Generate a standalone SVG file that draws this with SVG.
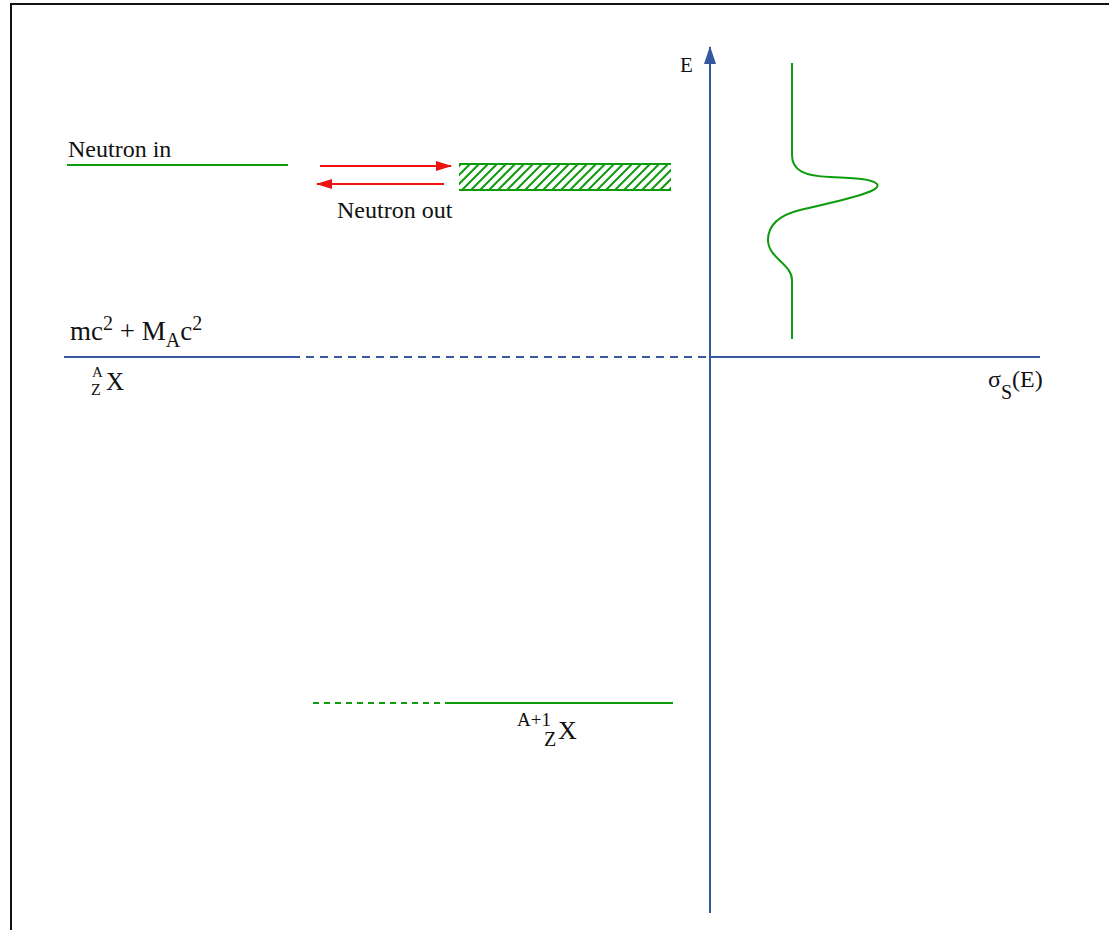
<svg xmlns="http://www.w3.org/2000/svg" width="1109" height="930" viewBox="0 0 1109 930">
<style>
text{font-family:"Liberation Serif","Times New Roman",serif;fill:#111}
.blue{stroke:#3558a0;stroke-width:2;fill:none}
.green{stroke:#0e9c0e;stroke-width:2;fill:none}
.red{stroke:#f01010;stroke-width:2;fill:none}
</style>
<defs>
<clipPath id="hatchClip"><rect x="459" y="164" width="212" height="26"/></clipPath>
<marker id="redArrow" markerWidth="16" markerHeight="10" refX="15" refY="5" orient="auto" markerUnits="userSpaceOnUse">
<path d="M0,0 L16,5 L0,10 Z" fill="#f01010"/>
</marker>
<marker id="blueArrow" markerWidth="12" markerHeight="18" refX="6" refY="1" orient="0" markerUnits="userSpaceOnUse">
<path d="M6,0 L12,18 L0,18 Z" fill="#3558a0"/>
</marker>
</defs>
<rect width="1109" height="930" fill="#fff"/>
<rect x="11" y="4" width="1200" height="1000" fill="none" stroke="#111" stroke-width="2"/>

<g id="axes">
<line class="blue" x1="710" y1="913" x2="710" y2="47" marker-end="url(#blueArrow)"/>
<line class="blue" x1="710" y1="357" x2="1040" y2="357"/>
<text x="680" y="72" font-size="21">E</text>
<text x="988" y="387" font-size="24">σ<tspan font-size="20" dy="12">S</tspan><tspan dy="-12">(E)</tspan></text>
</g>

<g id="neutron-in">
<text x="68" y="157" font-size="24">Neutron in</text>
<line class="green" x1="67" y1="165" x2="288" y2="165"/>
</g>

<g id="compound-state">
<path class="green" clip-path="url(#hatchClip)" d="M435,190 l26,-26 M444,190 l26,-26 M453,190 l26,-26 M462,190 l26,-26 M471,190 l26,-26 M480,190 l26,-26 M489,190 l26,-26 M498,190 l26,-26 M507,190 l26,-26 M516,190 l26,-26 M525,190 l26,-26 M534,190 l26,-26 M543,190 l26,-26 M552,190 l26,-26 M561,190 l26,-26 M570,190 l26,-26 M579,190 l26,-26 M588,190 l26,-26 M597,190 l26,-26 M606,190 l26,-26 M615,190 l26,-26 M624,190 l26,-26 M633,190 l26,-26 M642,190 l26,-26 M651,190 l26,-26 M660,190 l26,-26 M669,190 l26,-26"/>
<line class="green" x1="459" y1="164" x2="671" y2="164"/>
<line class="green" x1="459" y1="190" x2="671" y2="190"/>
</g>

<g id="connectors">
<line class="red" x1="320" y1="166" x2="451" y2="166" marker-end="url(#redArrow)"/>
<line class="red" x1="444" y1="184" x2="317" y2="184" marker-end="url(#redArrow)"/>
</g>

<g id="neutron-out">
<text x="337" y="218" font-size="24">Neutron out</text>
</g>

<g id="ground-level">
<text x="70" y="340" font-size="27">mc<tspan font-size="20" dy="-10">2</tspan><tspan dy="10"> + M</tspan><tspan font-size="20" dy="7">A</tspan><tspan dy="-7">c</tspan><tspan font-size="20" dy="-10">2</tspan></text>
<line class="blue" x1="64" y1="357" x2="292" y2="357"/>
<line class="blue" x1="292" y1="357" x2="710" y2="357" stroke-dasharray="8,6"/>
<text x="92" y="377" font-size="15">A</text>
<text x="91" y="395" font-size="16">Z</text>
<text x="106" y="390" font-size="25">X</text>
</g>

<g id="bound-level">
<line class="green" x1="313" y1="703" x2="445" y2="703" stroke-dasharray="6,5"/>
<line class="green" x1="445" y1="703" x2="673" y2="703"/>
<text x="517" y="726" font-size="19">A+1</text>
<text x="544" y="746" font-size="20">Z</text>
<text x="558" y="739" font-size="26">X</text>
</g>

<g id="cross-section">
<path class="green" d="M792,63 V155 C792,171 805,176 830,177 C855,178 873,179 877,184 C881,190 862,196 800,210 C772,217 768,230 768,240 C768,258 792,264 792,280 V339"/>
</g>
</svg>
